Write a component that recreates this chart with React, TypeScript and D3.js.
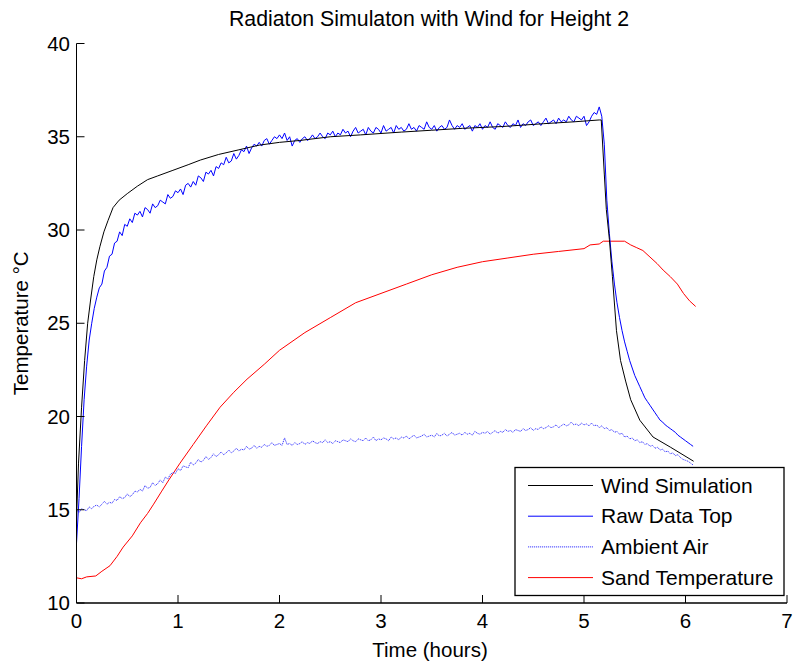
import React from 'react';
import * as d3 from 'd3';

const TITLE = 'Radiaton Simulaton with Wind for Height 2';
const X_LABEL = 'Time (hours)';
const Y_LABEL = 'Temperature °C';
const X_TICKS = [0, 1, 2, 3, 4, 5, 6, 7];
const Y_TICKS = [10, 15, 20, 25, 30, 35, 40];
const SERIES_NAMES = ['Wind Simulation', 'Raw Data Top', 'Ambient Air', 'Sand Temperature'];

// logged sensor series, one reading every SAMPLE_STEP hours starting at t = 0
const SAMPLE_STEP = 0.025;
const rawTop = [
  13.2, 15.6, 18.4, 20.9, 22.7, 24.1, 25.0, 25.8,
  26.4, 26.9, 27.1, 27.8, 28.0, 28.6, 28.7, 29.3,
  29.4, 29.9, 29.7, 30.3, 30.2, 30.6, 30.4, 30.9,
  30.8, 31.0, 30.7, 31.2, 31.1, 30.9, 31.4, 31.2,
  31.3, 31.6, 31.5, 31.4, 31.9, 31.7, 31.8, 32.1,
  32.0, 32.2, 31.9, 32.4, 32.5, 32.3, 32.6, 32.4,
  32.9, 32.8, 32.6, 33.1, 33.0, 33.2, 32.9, 33.4,
  33.3, 33.6, 33.5, 33.9, 33.6, 33.7, 34.1, 33.8,
  34.0, 34.3, 34.2, 34.5, 34.1, 34.4, 34.6, 34.5,
  34.7, 34.5, 34.8, 34.9, 34.6, 34.8, 35.0, 34.9,
  35.1, 34.9, 35.2, 34.8, 35.0, 34.5, 34.8, 34.9,
  34.7, 34.9, 35.0, 34.8, 34.9, 35.1, 34.9, 35.0,
  35.2, 35.0, 34.9, 35.2, 35.1, 35.3, 35.0, 35.2,
  35.1, 35.4, 35.2, 35.3, 35.0, 35.3, 35.5, 35.2,
  35.3, 35.4, 35.1, 35.5, 35.3, 35.2, 35.5, 35.4,
  35.2, 35.6, 35.3, 35.4, 35.5, 35.2, 35.6, 35.4,
  35.5, 35.3, 35.4, 35.7, 35.4, 35.5, 35.3, 35.6,
  35.5, 35.4, 35.8, 35.5, 35.4, 35.6, 35.3, 35.5,
  35.6, 35.4, 35.5, 35.9, 35.6, 35.4, 35.6, 35.5,
  35.7, 35.4, 35.5, 35.6, 35.3, 35.6, 35.5, 35.7,
  35.4, 35.6, 35.5, 35.8, 35.5, 35.4, 35.7, 35.6,
  35.5, 35.8, 35.6, 35.5, 35.7, 35.6, 35.9, 35.5,
  35.7, 35.6, 35.8, 35.9, 35.6, 35.7, 35.8, 35.6,
  35.8, 36.0, 35.7, 35.8, 35.9, 35.7, 36.0, 35.8,
  35.9, 35.8, 36.1, 35.9, 35.8, 36.1, 36.0, 35.9,
  36.1, 35.6, 35.8, 36.1, 36.3, 36.2, 36.6, 36.1,
  34.6, 31.6, 29.8, 28.3, 27.1, 26.1, 25.3, 24.6,
  24.0, 23.5, 23.0, 22.6, 22.2, 21.9, 21.6, 21.3,
  21.0, 20.8, 20.6, 20.4, 20.2, 20.0, 19.8, 19.7,
  19.55, 19.45, 19.35, 19.25, 19.15, 19.0, 18.9, 18.8,
  18.7, 18.6, 18.5, 18.4,
];
const ambientAir = [
  15.0, 14.85, 15.05, 15.0, 14.95, 15.15, 15.05, 15.2,
  15.25, 15.15, 15.3, 15.45, 15.3, 15.4, 15.35, 15.55,
  15.5, 15.7, 15.6, 15.65, 15.85, 15.7, 15.8, 16.0,
  15.95, 16.1, 16.0, 16.3, 16.15, 16.2, 16.45, 16.3,
  16.4, 16.6, 16.45, 16.75, 16.65, 16.9, 17.0, 16.95,
  17.2, 17.1, 17.35, 17.3, 17.25, 17.55, 17.4, 17.5,
  17.7, 17.55, 17.65, 17.85, 17.7, 17.8, 18.0, 17.85,
  17.95, 18.1, 17.95, 18.05, 18.2, 18.05, 18.15, 18.3,
  18.15, 18.25, 18.2, 18.4, 18.25, 18.3, 18.45, 18.3,
  18.4, 18.35, 18.5, 18.4, 18.45, 18.6, 18.45, 18.5,
  18.55, 18.45, 18.85, 18.5, 18.55, 18.45, 18.6, 18.5,
  18.55, 18.65, 18.5, 18.6, 18.55, 18.7, 18.6, 18.55,
  18.65, 18.6, 18.75, 18.6, 18.65, 18.55, 18.7, 18.65,
  18.6, 18.75, 18.7, 18.65, 18.8, 18.7, 18.65, 18.8,
  18.75, 18.7, 18.85, 18.7, 18.75, 18.9, 18.7, 18.8,
  18.75, 18.85, 18.8, 18.7, 18.9, 18.8, 18.85, 18.75,
  18.9, 18.85, 18.95, 18.8, 18.9, 19.0, 18.85, 18.9,
  18.95, 19.05, 18.9, 18.95, 19.0, 18.9, 19.1, 18.95,
  19.0, 19.1, 18.95, 19.05, 19.15, 19.0, 19.05, 19.1,
  19.0, 19.15, 19.05, 19.1, 19.0, 19.2, 19.1, 19.05,
  19.15, 19.1, 19.2, 19.05, 19.15, 19.25, 19.1, 19.2,
  19.15, 19.3, 19.2, 19.25, 19.15, 19.3, 19.25, 19.2,
  19.35, 19.25, 19.3, 19.4, 19.25, 19.35, 19.3, 19.45,
  19.35, 19.4, 19.5, 19.4, 19.45, 19.55, 19.4, 19.5,
  19.6, 19.5, 19.55, 19.7, 19.55, 19.6, 19.5, 19.65,
  19.55, 19.6, 19.5, 19.65, 19.5, 19.55, 19.4, 19.5,
  19.35, 19.4, 19.25, 19.3, 19.15, 19.2, 19.05, 19.1,
  18.9, 18.95, 18.8, 18.85, 18.7, 18.75, 18.6, 18.65,
  18.5, 18.55, 18.4, 18.45, 18.3, 18.35, 18.2, 18.25,
  18.1, 18.15, 18.0, 18.05, 17.9, 17.95, 17.8, 17.7,
  17.65, 17.6, 17.5, 17.4,
];

// [hours, °C]
const windSimulation: [number, number][] = [
  [0, 14.5], [0.02, 17.5], [0.05, 20.5], [0.08, 23.0], [0.11, 25.0], [0.14, 26.3],
  [0.17, 27.5], [0.2, 28.4], [0.23, 29.1], [0.27, 29.9], [0.31, 30.5], [0.36, 31.2],
  [0.42, 31.6], [0.5, 31.95], [0.6, 32.35], [0.7, 32.7], [0.8, 32.9], [0.95, 33.2],
  [1.1, 33.5], [1.22, 33.75], [1.4, 34.05], [1.6, 34.3], [1.8, 34.55], [2.0, 34.7],
  [2.2, 34.8], [2.5, 35.0], [2.8, 35.1], [3.2, 35.25], [3.5, 35.35], [3.8, 35.45],
  [4.2, 35.55], [4.6, 35.7], [4.9, 35.8], [5.15, 35.9], [5.17, 35.9], [5.2, 33.0],
  [5.22, 31.1], [5.25, 29.5], [5.28, 27.5], [5.32, 24.6], [5.36, 23.0], [5.41, 21.9],
  [5.46, 20.9], [5.55, 19.8], [5.68, 18.9], [5.85, 18.36], [6.08, 17.6],
];
const sandTemperature: [number, number][] = [
  [0, 11.35], [0.05, 11.3], [0.1, 11.4], [0.19, 11.45], [0.25, 11.7], [0.33, 12.0],
  [0.4, 12.5], [0.46, 13.0], [0.55, 13.6], [0.63, 14.3], [0.7, 14.8], [0.76, 15.3],
  [0.84, 16.0], [0.91, 16.6], [1.02, 17.5], [1.15, 18.5], [1.28, 19.5], [1.415, 20.5],
  [1.55, 21.3], [1.68, 22.0], [1.85, 22.8], [2.0, 23.55], [2.25, 24.5], [2.5, 25.3],
  [2.75, 26.1], [3.0, 26.6], [3.25, 27.1], [3.5, 27.6], [3.75, 28.0], [4.0, 28.3],
  [4.25, 28.5], [4.5, 28.7], [4.75, 28.85], [5.0, 29.0], [5.06, 29.2], [5.15, 29.25],
  [5.19, 29.4], [5.4, 29.4], [5.46, 29.2], [5.52, 29.05], [5.58, 28.9], [5.65, 28.55],
  [5.72, 28.2], [5.78, 27.85], [5.85, 27.5], [5.92, 27.1], [5.98, 26.6], [6.04, 26.2],
  [6.1, 25.9],
];

const W = 795;
const H = 666;
const FONT = '"Liberation Sans", Arial, Helvetica, sans-serif';

export default function App() {
  const x = d3.scaleLinear().domain([0, 7]).range([76.5, 787]);
  const y = d3.scaleLinear().domain([10, 40]).range([603, 43.5]);
  const line = d3
    .line<[number, number]>()
    .x((d) => x(d[0]))
    .y((d) => y(d[1]));
  const sampled = (arr: number[]): [number, number][] => arr.map((v, i) => [i * SAMPLE_STEP, v]);

  const series = [
    { name: SERIES_NAMES[0], data: windSimulation, color: '#000000', width: 1, dash: undefined as string | undefined },
    { name: SERIES_NAMES[1], data: sampled(rawTop), color: '#0000ff', width: 1, dash: undefined },
    { name: SERIES_NAMES[2], data: sampled(ambientAir), color: '#3a3aff', width: 1, dash: '1.2 0.8' },
    { name: SERIES_NAMES[3], data: sandTemperature, color: '#ff0000', width: 1, dash: undefined },
  ];
  const drawOrder = [3, 2, 1, 0];
  const tickLen = 8;
  const x0 = x(0);
  const y0 = y(10);

  const legend = { left: 515, top: 467.5, right: 784, bottom: 595.5 };
  const rowY = (i: number) => 485.5 + i * 30.7;

  return (
    <svg
      width={W}
      height={H}
      style={{ position: 'absolute', left: 0, top: 0, background: '#fff' }}
      fontFamily={FONT}
    >
      <rect x={0} y={0} width={W} height={H} fill="#fff" />
      {drawOrder.map((i) => {
        const s = series[i];
        return (
          <path
            key={s.name}
            d={line(s.data) || ''}
            fill="none"
            stroke={s.color}
            strokeWidth={s.width}
            strokeDasharray={s.dash}
            strokeLinejoin="round"
          />
        );
      })}
      {/* axes */}
      <line x1={x0} y1={y(40)} x2={x0} y2={y0} stroke="#000" strokeWidth={1} />
      <line x1={x0} y1={y0} x2={x(7)} y2={y0} stroke="#000" strokeWidth={1.3} />
      {X_TICKS.map((t) => (
        <g key={'xt' + t}>
          <line x1={x(t)} x2={x(t)} y1={y0} y2={y0 - tickLen} stroke="#000" strokeWidth={1} />
          <text x={x(t)} y={628} textAnchor="middle" fontSize={20.5} fill="#000">
            {t}
          </text>
        </g>
      ))}
      {Y_TICKS.map((v) => (
        <g key={'yt' + v}>
          <line x1={x0} x2={x0 + tickLen} y1={y(v)} y2={y(v)} stroke="#000" strokeWidth={1} />
          <text x={70} y={y(v) + 7} textAnchor="end" fontSize={20.5} fill="#000">
            {v}
          </text>
        </g>
      ))}
      <text x={430} y={657} textAnchor="middle" fontSize={20.5} fill="#000">
        {X_LABEL}
      </text>
      <text
        transform={`translate(28,${(y(10) + y(40)) / 2}) rotate(-90)`}
        textAnchor="middle"
        fontSize={20.5}
        fill="#000"
      >
        {Y_LABEL}
      </text>
      <text x={429} y={26} textAnchor="middle" fontSize={21.3} fill="#000">
        {TITLE}
      </text>
      {/* legend */}
      <rect
        x={legend.left}
        y={legend.top}
        width={legend.right - legend.left}
        height={legend.bottom - legend.top}
        fill="#fff"
        stroke="#000"
        strokeWidth={1.3}
      />
      {series.map((s, i) => (
        <g key={'lg' + s.name}>
          <line
            x1={528}
            x2={593}
            y1={rowY(i)}
            y2={rowY(i)}
            stroke={s.color}
            strokeWidth={s.width}
            strokeDasharray={s.dash}
          />
          <text x={601} y={rowY(i) + 7} fontSize={21} fill="#000">
            {s.name}
          </text>
        </g>
      ))}
    </svg>
  );
}
